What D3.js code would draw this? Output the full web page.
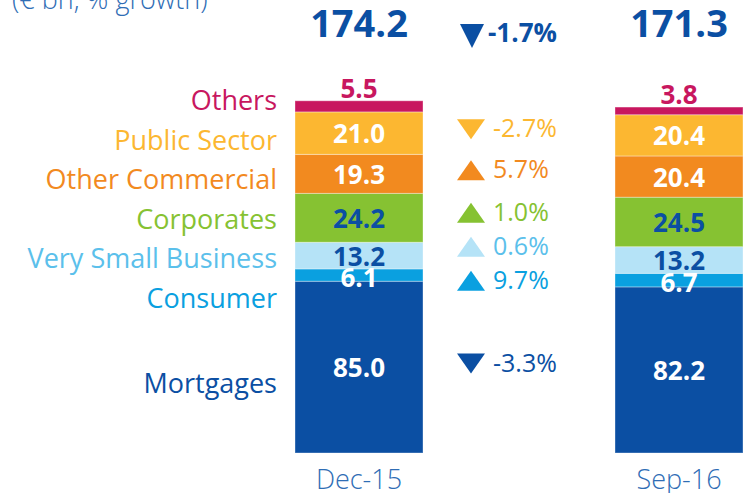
<!DOCTYPE html>
<html>
<head>
<meta charset="utf-8">
<script src="https://cdnjs.cloudflare.com/ajax/libs/d3/7.8.5/d3.min.js"></script>
<style>
  body { margin: 0; background: #fff; }
  svg { display: block; font-family: "Open Sans", "Noto Sans", sans-serif; }
</style>
</head>
<body>
<script>
// data
const periods = ["Dec-15", "Sep-16"];
const segments = ["Mortgages", "Consumer", "Very Small Business", "Corporates", "Other Commercial", "Public Sector", "Others"];
const dec15 = [85.0, 6.1, 13.2, 24.2, 19.3, 21.0, 5.5];
const sep16 = [82.2, 6.7, 13.2, 24.5, 20.4, 20.4, 3.8];
const totals = [174.2, 171.3];
const totalGrowth = -1.7;
const growth = [-3.3, 9.7, 0.6, 1.0, 5.7, -2.7, null];

const W = 743, H = 493;
const navy = "#0b4fa3";
const fill = {
  "Mortgages": "#0b4fa3",
  "Consumer": "#0aa0e0",
  "Very Small Business": "#b5e3f7",
  "Corporates": "#86c232",
  "Other Commercial": "#f28a1f",
  "Public Sector": "#fcb731",
  "Others": "#c8175f"
};
const labelColor = {
  "Mortgages": "#0b4fa3",
  "Consumer": "#0aa0e0",
  "Very Small Business": "#5bc0eb",
  "Corporates": "#86c232",
  "Other Commercial": "#f28a1f",
  "Public Sector": "#fcb731",
  "Others": "#c8175f"
};
const valueColor = {
  "Mortgages": "#fff", "Consumer": "#fff", "Very Small Business": navy,
  "Corporates": navy, "Other Commercial": "#fff", "Public Sector": "#fff", "Others": "#c8175f"
};

// plain hyphen, like the slide
const f1 = v => v.toFixed(1);

const rows = periods.map((p, i) => {
  const r = {period: p};
  segments.forEach((s, j) => r[s] = (i === 0 ? dec15 : sep16)[j]);
  return r;
});
const stacked = d3.stack().keys(segments)(rows);

const svg = d3.select("body").append("svg").attr("width", W).attr("height", H);

const x = d3.scaleBand().domain(periods).range([295, 743]).paddingInner(0.6).paddingOuter(0);
const y = d3.scaleLinear().domain([0, d3.max(totals)]).range([453, 101]);

// title, cut off at the top of the slide
svg.append("text").attr("x", 12).attr("y", 9)
  .attr("font-size", 27).attr("font-weight", 300).attr("fill", "#2f6db5")
  .text("(€ bn, % growth)");

// bars
const layer = svg.selectAll("g.layer").data(stacked).enter().append("g")
  .attr("class", "layer").attr("fill", d => fill[d.key]);
layer.selectAll("rect").data(d => d).enter().append("rect")
  .attr("x", d => x(d.data.period))
  .attr("width", x.bandwidth())
  .attr("y", d => y(d[1]))
  .attr("height", d => y(d[0]) - y(d[1]))
  .attr("stroke", "#fff").attr("stroke-opacity", 0.35).attr("stroke-width", 1);

// value labels
stacked.forEach(s => {
  s.forEach(d => {
    const top = y(d[1]), bot = y(d[0]), h = bot - top;
    let by = (top + bot) / 2 + 10;
    if (s.key === "Others") by = top - 3;
    else if (h < 20) by = (top + bot) / 2 + 12;
    svg.append("text")
      .attr("x", x(d.data.period) + x.bandwidth() / 2).attr("y", by)
      .attr("text-anchor", "middle").attr("font-size", 26).attr("font-weight", 700)
      .attr("fill", valueColor[s.key])
      .text(f1(d.data[s.key]));
  });
});

// totals
periods.forEach((p, i) => {
  svg.append("text").attr("x", x(p) + x.bandwidth() / 2).attr("y", 37)
    .attr("text-anchor", "middle").attr("font-size", 38).attr("font-weight", 700)
    .attr("fill", navy).text(f1(totals[i]));
});

function tri(cx, cy, w, h, up) {
  return up
    ? `M${cx - w / 2},${cy + h / 2}L${cx + w / 2},${cy + h / 2}L${cx},${cy - h / 2}Z`
    : `M${cx - w / 2},${cy - h / 2}L${cx + w / 2},${cy - h / 2}L${cx},${cy + h / 2}Z`;
}

const gx = x(periods[0]) + x.bandwidth() + 48;
svg.append("path").attr("d", tri(gx + 1, 36, 24, 24, totalGrowth > 0)).attr("fill", navy);
svg.append("text").attr("x", gx + 17).attr("y", 42)
  .attr("font-size", 26).attr("font-weight", 700).attr("fill", navy)
  .text(f1(totalGrowth) + "%");

// left category labels: bar 1 segment middles, pushed down so they don't collide
const mids0 = stacked.map(s => (y(s[0][0]) + y(s[0][1])) / 2);
const order = d3.range(segments.length).reverse();
const labelY = [];
let prev = -Infinity;
order.forEach(i => { labelY[i] = Math.max(mids0[i], prev + 39.5); prev = labelY[i]; });
segments.forEach((s, i) => {
  svg.append("text").attr("x", 277).attr("y", labelY[i] + 4 + (i === 0 ? 22 : 0))
    .attr("text-anchor", "end").attr("font-size", 27)
    .attr("fill", labelColor[s]).text(s);
});

// growth rows: mean of both bars' middles, relaxed apart
const gIdx = d3.range(segments.length).filter(i => growth[i] !== null);
const gy = {};
gIdx.forEach(i => gy[i] = stacked[i].reduce((a, d) => a + (y(d[0]) + y(d[1])) / 2, 0) / 2 - 5);
for (let k = 0; k < 60; k++) {
  for (let j = 0; j < gIdx.length - 1; j++) {
    const a = gIdx[j], b = gIdx[j + 1];
    const gap = gy[a] - gy[b];
    if (gap < 34) { const m = (34 - gap) / 2; gy[a] += m; gy[b] -= m; }
  }
}
gIdx.forEach(i => {
  const s = segments[i];
  svg.append("path").attr("d", tri(gx, gy[i], 28, 20, growth[i] > 0))
    .attr("fill", s === "Very Small Business" ? fill[s] : labelColor[s]);
  svg.append("text").attr("x", gx + 22).attr("y", gy[i] + 8)
    .attr("font-size", 25).attr("fill", labelColor[s])
    .text(f1(growth[i]) + "%");
});

// period labels
periods.forEach(p => {
  svg.append("text").attr("x", x(p) + x.bandwidth() / 2).attr("y", 489)
    .attr("text-anchor", "middle").attr("font-size", 27).attr("font-weight", 300)
    .attr("fill", "#2f6db5").text(p);
});
</script>
</body>
</html>
